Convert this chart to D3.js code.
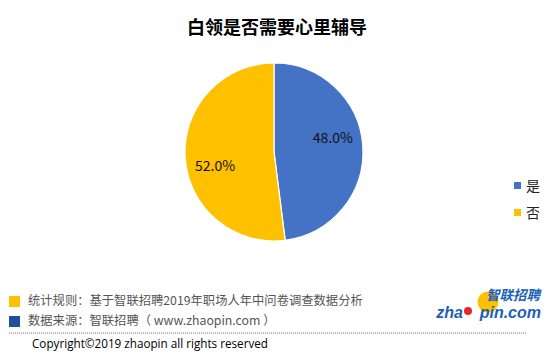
<!DOCTYPE html>
<html>
<head>
<meta charset="utf-8">
<script src="https://cdn.jsdelivr.net/npm/d3@7"></script>
<style>
  body { margin: 0; background: #fff; }
  svg { display: block; }
</style>
</head>
<body>
<svg id="chart" width="553" height="355"></svg>
<script>
// data
const categories = ["是", "否"];
const values = [48.0, 52.0];
const colors = ["#4472C4", "#FFC000"];
const title = "白领是否需要心里辅导";
const notes = [
  { text: "统计规则：基于智联招聘2019年职场人年中问卷调查数据分析", color: "#FFC000" },
  { text: "数据来源：智联招聘（ www.zhaopin.com ）", color: "#1F4E9A" }
];

chart()
function chart(){
  const svg = d3.select("#chart"),
      width = +svg.attr("width"),
      height = +svg.attr("height");
  const font = "'Noto Sans CJK SC', 'Microsoft YaHei', sans-serif";

  // title
  svg.append("text")
    .attr("x", 277).attr("y", 34)
    .attr("text-anchor", "middle")
    .style("font-family", font)
    .style("font-size", "18px")
    .style("font-weight", "bold")
    .attr("fill", "#000")
    .text(title);

  // pie
  const cx = 274, cy = 152, r = 89;
  const pie = d3.pie().sort(null).value(d => d)
  const arc = d3.arc().innerRadius(0).outerRadius(r)
  // labels sit a bit counter-clockwise of the slice middle, like the original
  const labelAngleShift = -0.17
  const labelR = r * 0.68
  const labelPos = d => {
    const a = (d.startAngle + d.endAngle) / 2 + labelAngleShift
    return [Math.sin(a) * labelR, -Math.cos(a) * labelR]
  }

  const g = svg.append("g").attr("transform", `translate(${cx},${cy})`)
  const arcs = pie(values)

  g.selectAll("path")
    .data(arcs)
    .join("path")
      .attr("d", arc)
      .attr("fill", (d, i) => colors[i])
      .attr("stroke", "#fff")
      .attr("stroke-width", 1.2)

  g.selectAll("text.lbl")
    .data(arcs)
    .join("text")
      .attr("class", "lbl")
      .attr("transform", d => `translate(${labelPos(d)})`)
      .attr("text-anchor", "middle")
      .attr("dy", "0.35em")
      .style("font-family", font)
      .style("font-size", "14px")
      .attr("fill", "#111")
      .text(d => d.data.toFixed(1) + "%")

  // legend
  const legend = svg.append("g").selectAll("g")
    .data(categories)
    .join("g")
      .attr("transform", (d, i) => `translate(514, ${186 + i * 27})`)
  legend.append("rect")
    .attr("x", 0).attr("y", -4)
    .attr("width", 7).attr("height", 7)
    .attr("fill", (d, i) => colors[i])
  legend.append("text")
    .attr("x", 12).attr("y", 0)
    .attr("dy", "0.35em")
    .style("font-family", font)
    .style("font-size", "14px")
    .attr("fill", "#222")
    .text(d => d)

  // footer notes
  const foot = svg.append("g").selectAll("g")
    .data(notes)
    .join("g")
      .attr("transform", (d, i) => `translate(9, ${301 + i * 20})`)
  foot.append("rect")
    .attr("x", 0).attr("y", -5)
    .attr("width", 11).attr("height", 11)
    .attr("fill", d => d.color)
  foot.append("text")
    .attr("x", 19).attr("y", 0)
    .attr("dy", "0.35em")
    .style("font-family", font)
    .style("font-size", "12.3px")
    .attr("fill", "#555")
    .text(d => d.text)

  // dashed line
  svg.append("line")
    .attr("x1", 9).attr("x2", 526)
    .attr("y1", 333).attr("y2", 333)
    .attr("stroke", "#777")
    .attr("stroke-width", 1)
    .style("stroke-dasharray", "1,1")

  svg.append("text")
    .attr("x", 32).attr("y", 344)
    .attr("dy", "0.35em")
    .style("font-family", "'Open Sans', 'Noto Sans', sans-serif")
    .style("font-size", "11.7px")
    .attr("fill", "#000")
    .text("Copyright©2019 zhaopin all rights reserved")

  // logo
  const logo = svg.append("g")
  logo.append("circle").attr("cx", 488).attr("cy", 302).attr("r", 10.5).attr("fill", "#FFC000")
  logo.append("text")
    .attr("x", 540).attr("y", 300)
    .attr("text-anchor", "end")
    .style("font-family", font)
    .style("font-size", "13.5px")
    .style("font-weight", "bold")
    .style("font-style", "italic")
    .attr("fill", "#1B5FB8")
    .text("智联招聘")
  logo.append("text")
    .attr("x", 463).attr("y", 318)
    .attr("text-anchor", "end")
    .style("font-family", "'Liberation Sans', Arial, sans-serif")
    .style("font-size", "16px")
    .style("font-weight", "bold")
    .style("font-style", "italic")
    .attr("fill", "#1B5FB8")
    .text("zha")
  logo.append("text")
    .attr("x", 541).attr("y", 318)
    .attr("text-anchor", "end")
    .style("font-family", "'Liberation Sans', Arial, sans-serif")
    .style("font-size", "16px")
    .style("font-weight", "bold")
    .style("font-style", "italic")
    .attr("fill", "#1B5FB8")
    .text("pin.com")
  logo.append("circle").attr("cx", 468).attr("cy", 311).attr("r", 4).attr("fill", "#E8262B")
}
</script>
</body>
</html>
